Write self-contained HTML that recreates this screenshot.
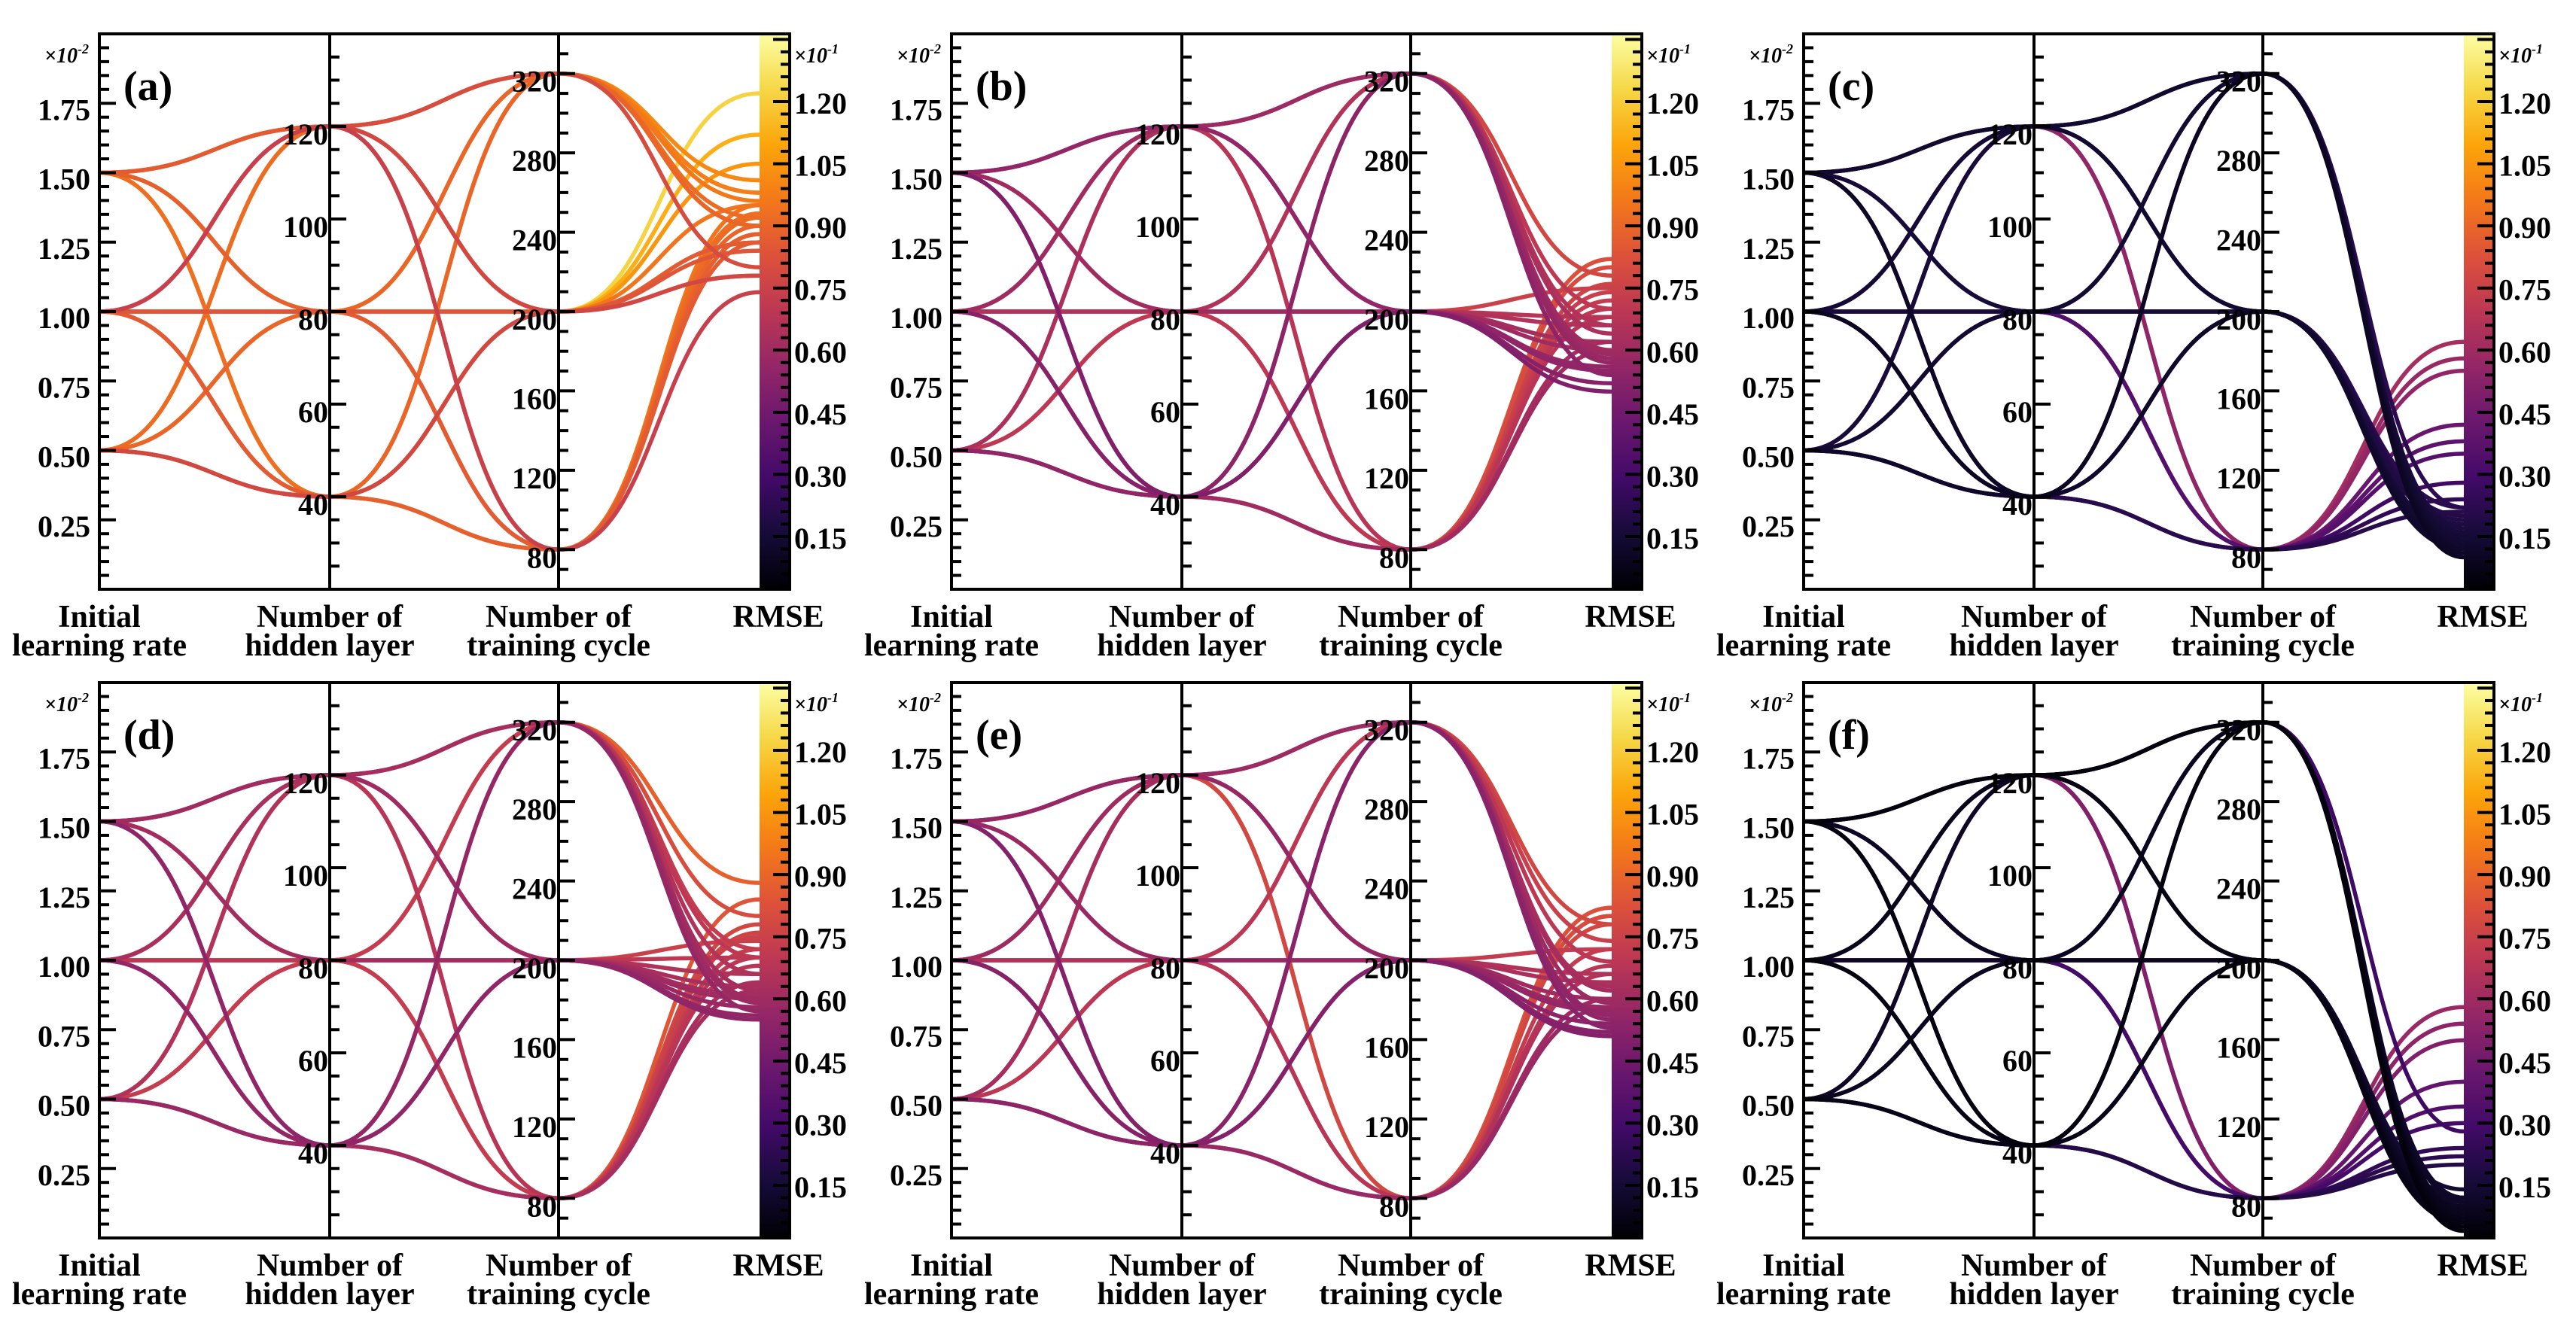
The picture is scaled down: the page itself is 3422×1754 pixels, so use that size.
<!DOCTYPE html>
<html><head><meta charset="utf-8"><title>Parallel coordinates</title>
<style>
html,body{margin:0;padding:0;background:#fff;}
svg{display:block;}
text{font-family:"Liberation Serif","Times New Roman",serif;font-weight:bold;fill:#000;}
</style></head>
<body>
<svg id="fig" width="3422" height="1754" viewBox="0 0 3422 1754" xmlns="http://www.w3.org/2000/svg">
<defs>
<linearGradient id="inferno" x1="0" y1="1" x2="0" y2="0">
<stop offset="0" stop-color="#000004"/><stop offset="0.1" stop-color="#160b39"/>
<stop offset="0.2" stop-color="#420a68"/><stop offset="0.3" stop-color="#6a176e"/>
<stop offset="0.4" stop-color="#932667"/><stop offset="0.5" stop-color="#bc3754"/>
<stop offset="0.6" stop-color="#dd513a"/><stop offset="0.7" stop-color="#f37819"/>
<stop offset="0.8" stop-color="#fca50a"/><stop offset="0.9" stop-color="#f6d746"/>
<stop offset="1" stop-color="#fcffa4"/>
</linearGradient>
</defs>
</svg>
<script>
// categories
const lrValues = [0.5, 1.0, 1.5];
const hiddenValues = [40, 80, 120];
const cycleValues = [80, 200, 320];
const panelLabels = ['(a)','(b)','(c)','(d)','(e)','(f)'];
// tick labels
const lrTicks = ['0.25','0.50','0.75','1.00','1.25','1.50','1.75'];
const hiddenTicks = ['40','60','80','100','120'];
const cycleTicks = ['80','120','160','200','240','280','320'];
const rmseTicks = ['0.15','0.30','0.45','0.60','0.75','0.90','1.05','1.20'];
// RMSE series (x10^-1), order: lr(0.5,1,1.5) x hidden(40,80,120) x cycle(80,200,320)
const rmseA = [0.92,0.78,0.90, 0.90,0.95,0.92, 0.92,1.05,0.98,
               0.88,0.86,0.90, 0.86,0.84,0.90, 0.74,0.78,0.80,
               0.93,1.22,0.96, 0.88,1.12,1.01, 0.95,0.86,0.98];
const rmseB = [0.62,0.55,0.58, 0.82,0.75,0.70, 0.80,0.66,0.64,
               0.60,0.52,0.57, 0.70,0.68,0.66, 0.72,0.62,0.60,
               0.76,0.50,0.54, 0.74,0.60,0.78, 0.68,0.56,0.59];
const rmseC = [0.28,0.15,0.12, 0.42,0.18,0.14, 0.62,0.22,0.16,
               0.24,0.13,0.10, 0.38,0.20,0.17, 0.58,0.19,0.15,
               0.21,0.12,0.11, 0.35,0.16,0.22, 0.55,0.14,0.13];
const rmseD = [0.64,0.58,0.60, 0.84,0.74,0.72, 0.78,0.66,0.70,
               0.62,0.56,0.59, 0.72,0.70,0.80, 0.75,0.63,0.66,
               0.70,0.55,0.57, 0.76,0.61,0.88, 0.68,0.60,0.62];
const rmseE = [0.60,0.54,0.56, 0.80,0.72,0.69, 0.82,0.64,0.62,
               0.58,0.52,0.55, 0.68,0.66,0.78, 0.78,0.60,0.63,
               0.66,0.51,0.53, 0.72,0.58,0.74, 0.80,0.57,0.59];
const rmseF = [0.24,0.10,0.07, 0.40,0.12,0.09, 0.58,0.14,0.11,
               0.22,0.08,0.06, 0.34,0.11,0.28, 0.54,0.09,0.08,
               0.20,0.07,0.05, 0.30,0.10,0.12, 0.50,0.06,0.04];
const panelRmse = [rmseA, rmseB, rmseC, rmseD, rmseE, rmseF];

const NS = 'http://www.w3.org/2000/svg';
const svg = document.getElementById('fig');
const PW = 917, PH = 738;
const AX = [0, 306, 610, 877];
const CBW = 40;
const panelX = [132, 1264, 2396], panelY = [45, 907];
const RMIN = 0.0228, RMAX = 1.3635;

function yLr(v){ return PH*(1 - v/2.0); }
function yHid(v){ return PH*(140 - v)/120; }
function yCyc(v){ return PH*(340 - v)/280; }
function yR(v){ return PH*(RMAX - v)/(RMAX - RMIN); }

const stops = [[0,[0,0,4]],[0.1,[22,11,57]],[0.2,[66,10,104]],[0.3,[106,23,110]],[0.4,[147,38,103]],
  [0.5,[188,55,84]],[0.6,[221,81,58]],[0.7,[243,120,25]],[0.8,[252,165,10]],[0.9,[246,215,70]],[1,[252,255,164]]];
function inferno(v){
  let t = Math.max(0, Math.min(1, (v - RMIN)/(RMAX - RMIN)));
  for (let i=1;i<stops.length;i++){
    if (t <= stops[i][0]){
      const a=stops[i-1], b=stops[i], f=(t-a[0])/(b[0]-a[0]);
      const c=a[1].map((x,k)=>Math.round(x+(b[1][k]-x)*f));
      return 'rgb('+c.join(',')+')';
    }
  }
  return 'rgb(252,255,164)';
}
function mk(tag, parent){ const e=document.createElementNS(NS,tag); parent.appendChild(e); return e; }
function seg(x1,y1,x2,y2){ const m=(x2-x1)/2; return ' C'+(x1+m)+','+y1+' '+(x2-m)+','+y2+' '+x2+','+y2; }
function txt(parent,x,y,s,size,anchor,extra){
  const t=mk('text',parent); t.setAttribute('x',x); t.setAttribute('y',y);
  t.setAttribute('font-size',size); t.setAttribute('text-anchor',anchor||'start');
  t.setAttribute('font-family','Liberation Serif, Times New Roman, serif');
  if(extra) t.setAttribute('font-style',extra);
  t.textContent=s; return t;
}
function ticks(g, x, yFn, start, end, minorStep, majorEvery){
  let n=0;
  for (let v=start; v<=end+1e-9; v+=minorStep, n++){
    const y=yFn(v); if (y<2 || y>PH-2) continue;
    const major = (n % majorEvery)===0;
    const l=mk('line',g); l.setAttribute('x1',x); l.setAttribute('x2',x+(major?22:13));
    l.setAttribute('y1',y); l.setAttribute('y2',y); l.setAttribute('stroke','#000'); l.setAttribute('stroke-width',4);
  }
}

panelRmse.forEach((rm, p) => {
  const g = mk('g', svg);
  
  
  g.setAttribute('transform', 'translate(' + panelX[p%3] + ',' + panelY[Math.floor(p/3)] + ')');

  const cb = mk('rect', g);
  
  
  cb.setAttribute('x', AX[3]); cb.setAttribute('y', 0); cb.setAttribute('width', CBW); cb.setAttribute('height', PH);
  cb.setAttribute('fill', 'url(#inferno)');

  const lg = mk('g', g);
  
  
  const lines = [];
  lrValues.forEach((lr,i)=>hiddenValues.forEach((h,j)=>cycleValues.forEach((c,k)=>{
    lines.push({lr, h, c, r: rm[i*9+j*3+k]});
  })));
  lines.sort((a,b)=>b.r-a.r);
  lines.forEach(L=>{
    const y0=yLr(L.lr), y1=yHid(L.h), y2=yCyc(L.c), y3=yR(L.r);
    const d='M'+AX[0]+','+y0+seg(AX[0],y0,AX[1],y1)+seg(AX[1],y1,AX[2],y2)+seg(AX[2],y2,AX[3],y3);
    const path=mk('path',lg);
    
    
    path.setAttribute('d',d); path.setAttribute('fill','none');
    path.setAttribute('stroke',inferno(L.r)); path.setAttribute('stroke-width',5.5);
  });

  [AX[1],AX[2]].forEach((x,i)=>{
    const l=mk('line',g);
    
    
    l.setAttribute('x1',x); l.setAttribute('x2',x); l.setAttribute('y1',0); l.setAttribute('y2',PH);
    l.setAttribute('stroke','#000'); l.setAttribute('stroke-width',4);
  });
  const fr = mk('rect', g);
  
  
  fr.setAttribute('x',0); fr.setAttribute('y',0); fr.setAttribute('width',PW); fr.setAttribute('height',PH);
  fr.setAttribute('fill','none'); fr.setAttribute('stroke','#000'); fr.setAttribute('stroke-width',4);

  const tg = mk('g', g);
  
  
  ticks(tg, AX[0], yLr, 0, 2.0, 0.05, 5);
  ticks(tg, AX[1], yHid, 20, 140, 5, 4);
  ticks(tg, AX[2], yCyc, 40, 340, 10, 4);
  let n=0;
  for (let v=0; v<=1.37; v+=0.03, n++){
    const y=yR(v); if (y<3||y>PH-3) continue;
    const major=(n%5)===0;
    const l=mk('line',tg); l.setAttribute('x1',PW); l.setAttribute('x2',PW-(major?22:12));
    l.setAttribute('y1',y); l.setAttribute('y2',y); l.setAttribute('stroke','#000'); l.setAttribute('stroke-width',4);
  }

  const lab = mk('g', g);
  
  
  lrTicks.forEach(s=>txt(lab, -12, yLr(parseFloat(s))+22, s, 40, 'end'));
  hiddenTicks.forEach(s=>txt(lab, AX[1]-2, yHid(parseFloat(s))+24, s, 40, 'end'));
  cycleTicks.forEach(s=>txt(lab, AX[2]-2, yCyc(parseFloat(s))+24, s, 40, 'end'));
  rmseTicks.forEach(s=>txt(lab, PW+6, yR(parseFloat(s))+16, s, 40, 'start'));

  const e1 = txt(g, -14, 38, '×10', 28, 'end', 'italic');
   
  const s1=mk('tspan',e1); s1.setAttribute('dy',-12); s1.setAttribute('font-size',18); s1.textContent='-2';
  const e2 = txt(g, PW+6, 38, '×10', 28, 'start', 'italic');
   
  const s2=mk('tspan',e2); s2.setAttribute('dy',-12); s2.setAttribute('font-size',18); s2.textContent='-1';

  const pl = txt(g, 32, 88, panelLabels[p], 56, 'start');
   

  const tt = mk('g', g);
  
  
  txt(tt, AX[0], PH+50, 'Initial', 42, 'middle');
  txt(tt, AX[0], PH+88, 'learning rate', 42, 'middle');
  txt(tt, AX[1], PH+50, 'Number of', 42, 'middle');
  txt(tt, AX[1], PH+88, 'hidden layer', 42, 'middle');
  txt(tt, AX[2], PH+50, 'Number of', 42, 'middle');
  txt(tt, AX[2], PH+88, 'training cycle', 42, 'middle');
  txt(tt, AX[3]+25, PH+50, 'RMSE', 42, 'middle');
});
</script>
</body></html>
